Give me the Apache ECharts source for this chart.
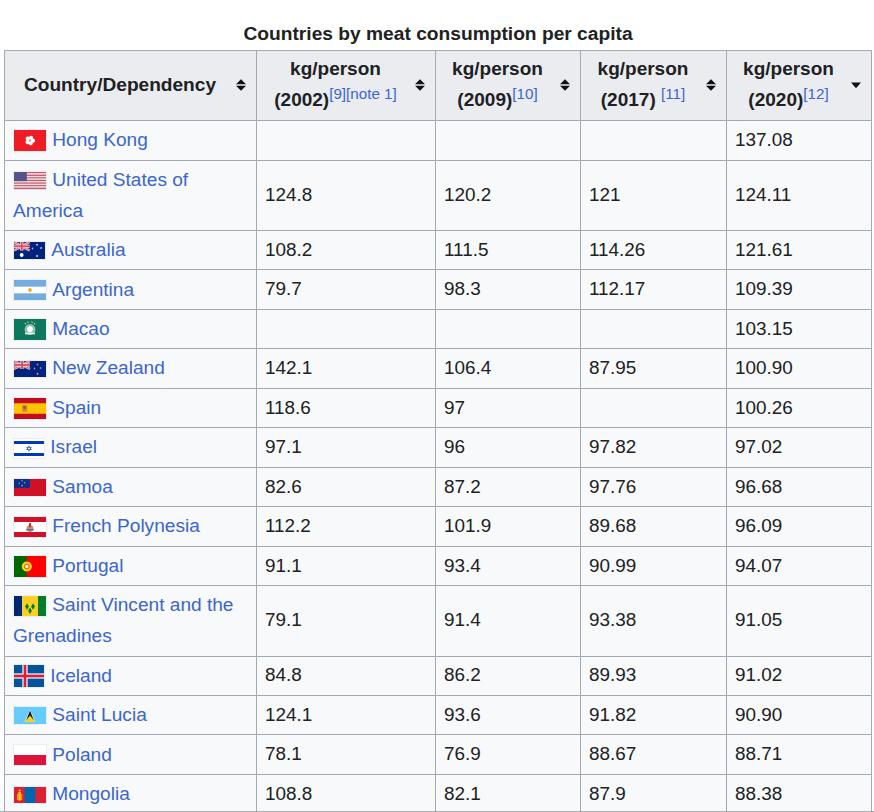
<!DOCTYPE html>
<html>
<head>
<meta charset="utf-8">
<title>Countries by meat consumption per capita</title>
<script src="https://cdn.jsdelivr.net/npm/echarts@6/dist/echarts.min.js"></script>
<style>
html,body{margin:0;padding:0;background:#fff;overflow:hidden;}
#main{width:874px;height:812px;}
#main text{font-kerning:none;}
</style>
</head>
<body>
<div id="main"></div>
<script>
//表格数据
var chartTitle = 'Countries by meat consumption per capita';
var firstHeader = 'Country/Dependency';
var headerUnit = 'kg/person';
var headerYears = ['(2002)', '(2009)', '(2017) ', '(2020)'];
var headerRefs = ['[9][note 1]', '[10]', '[11]', '[12]'];
var countries = ['Hong Kong', 'United States of\nAmerica', 'Australia', 'Argentina', 'Macao', 'New Zealand', 'Spain', 'Israel', 'Samoa', 'French Polynesia', 'Portugal', 'Saint Vincent and the\nGrenadines', 'Iceland', 'Saint Lucia', 'Poland', 'Mongolia'];
var values2002 = ['', '124.8', '108.2', '79.7', '', '142.1', '118.6', '97.1', '82.6', '112.2', '91.1', '79.1', '84.8', '124.1', '78.1', '108.8'];
var values2009 = ['', '120.2', '111.5', '98.3', '', '106.4', '97', '96', '87.2', '101.9', '93.4', '91.4', '86.2', '93.6', '76.9', '82.1'];
var values2017 = ['', '121', '114.26', '112.17', '', '87.95', '', '97.82', '97.76', '89.68', '90.99', '93.38', '89.93', '91.82', '88.67', '87.9'];
var values2020 = ['137.08', '124.11', '121.61', '109.39', '103.15', '100.90', '100.26', '97.02', '96.68', '96.09', '94.07', '91.05', '91.02', '90.90', '88.71', '88.38'];

//样式
var TEXT = '#202122', LINK = '#3b66cc', BORDER = '#a2a9b1', HEAD_BG = '#eaecf0', CELL_BG = '#f8f9fa';
var FONT = 'Liberation Sans';
var BODY_SIZE = 18.9, LINK_SIZE = 19.1, HEAD_SIZE = 19.1;

//表格布局（坐标轴单位就是像素）
var colEdges = [4.5, 256.5, 435.5, 580.5, 726.5, 871.5];
var HEADER_TOP = 50.5, HEADER_BOTTOM = 120.6, ROW_H = 39.45, LINE_H = 31;
var rowEdges = [HEADER_BOTTOM];
countries.forEach(function(name, i) {
	var extra = name.indexOf('\n') >= 0 ? LINE_H : 0;
	rowEdges.push(rowEdges[i] + ROW_H + extra);
});
var columns = [values2002, values2009, values2017, values2020];

//国旗尺寸
var flagSizes = {
	'Hong Kong': [32, 21], 'United States of\nAmerica': [32, 17], 'Australia': [31, 17], 'Argentina': [32, 20],
	'Macao': [32, 21], 'New Zealand': [32, 16], 'Spain': [32, 21], 'Israel': [30, 19], 'Samoa': [32, 17],
	'French Polynesia': [32, 20], 'Portugal': [32, 21], 'Saint Vincent and the\nGrenadines': [32, 20],
	'Iceland': [30, 22], 'Saint Lucia': [32, 17], 'Poland': [32, 20], 'Mongolia': [32, 16]
};

function box(x, y, w, h, c) {
	return {type: 'rect', shape: {x: x, y: y, width: w, height: h}, style: {fill: c}};
}
function poly(pts, c) {
	return {type: 'polygon', shape: {points: pts}, style: {fill: c}};
}
function dot(x, y, r, c) {
	return {type: 'circle', shape: {cx: x, cy: y, r: r}, style: {fill: c}};
}
function bar(x1, y1, x2, y2, lw, c) {
	return {type: 'line', shape: {x1: x1, y1: y1, x2: x2, y2: y2}, style: {stroke: c, lineWidth: lw}};
}
//米字旗
function unionJack(w, h) {
	return [
		box(0, 0, w, h, '#2b3f8c'),
		bar(0, 0, w, h, 2, '#f2d6dc'), bar(w, 0, 0, h, 2, '#f2d6dc'),
		bar(0, 0, w, h, 0.8, '#d8404f'), bar(w, 0, 0, h, 0.8, '#d8404f'),
		box(0, h / 2 - 1.6, w, 3.2, '#f6e4e6'), box(w / 2 - 1.6, 0, 3.2, h, '#f6e4e6'),
		box(0, h / 2 - 0.9, w, 1.8, '#e0485a'), box(w / 2 - 0.9, 0, 1.8, h, '#e0485a')
	];
}
//画国旗
function flagParts(name, w, h) {
	var p = [];
	switch (name) {
	case 'Hong Kong':
		p.push(box(0, 0, w, h, '#ee1c25'));
		for (var i = 0; i < 5; i++) {
			var a = i * Math.PI * 2 / 5 - 1.2;
			p.push(dot(w / 2 + 2.9 * Math.cos(a), h / 2 + 2.9 * Math.sin(a), 2.1, '#fff'));
		}
		p.push(dot(w / 2, h / 2, 0.9, '#f8a0a4'));
		break;
	case 'United States of\nAmerica':
		for (var s = 0; s < 13; s++) {
			p.push(box(0, s * h / 13, w, h / 13 + 0.1, s % 2 ? '#f0dfe0' : '#c4596a'));
		}
		p.push(box(0, 0, w * 0.4, h * 7 / 13, '#53558a'));
		break;
	case 'Australia':
		p.push(box(0, 0, w, h, '#00247d'));
		p = p.concat(unionJack(15.5, 8.5));
		p.push(dot(7.7, 13, 1.9, '#fff'), dot(23, 2.8, 0.9, '#cfd6ee'), dot(18.5, 6.5, 0.8, '#aab5dd'), dot(27, 6, 0.8, '#cfd6ee'), dot(23, 14, 0.9, '#e4e8f6'), dot(25.5, 8.5, 0.5, '#aab5dd'));
		break;
	case 'Argentina':
		p.push(box(0, 0, w, h, '#74acdf'), box(0, h / 3, w, h / 3, '#fff'), dot(w / 2, h / 2, 1.9, '#f6b40e'));
		break;
	case 'Macao':
		p.push(box(0, 0, w, h, '#0e785e'));
		p.push(dot(w / 2, h / 2, 5.4, '#8fc0b2'), dot(w / 2, h / 2 - 0.4, 3, '#fff'), box(w / 2 - 5, h / 2 + 3.2, 10, 1.6, '#eaf3f0'));
		p.push(dot(w / 2 - 4.5, 4.6, 0.7, '#c9d98a'), dot(w / 2 - 2, 3.2, 0.7, '#c9d98a'), dot(w / 2 + 2, 3.2, 0.7, '#c9d98a'), dot(w / 2 + 4.5, 4.6, 0.7, '#c9d98a'));
		break;
	case 'New Zealand':
		p.push(box(0, 0, w, h, '#00247d'));
		p = p.concat(unionJack(16, 8));
		p.push(dot(23.5, 3.5, 0.9, '#d87c8c'), dot(20.5, 7.5, 0.8, '#d87c8c'), dot(26.5, 7, 0.8, '#d87c8c'), dot(23.5, 12.8, 1, '#d87c8c'));
		break;
	case 'Spain':
		p.push(box(0, 0, w, h, '#c60b1e'), box(0, h / 4, w, h / 2, '#ffc400'));
		p.push(box(8.2, 7.2, 5, 6.5, '#c98a3a'), dot(10.7, 9.5, 1.6, '#ad5a30'));
		break;
	case 'Israel':
		p.push(box(0, 0, w, h, '#fff'), box(0, 2, w, 3, '#0038b8'), box(0, h - 5, w, 3, '#0038b8'));
		p.push(poly([[w / 2, h / 2 - 3.2], [w / 2 + 2.8, h / 2 + 1.6], [w / 2 - 2.8, h / 2 + 1.6]], '#3a63c6'));
		p.push(poly([[w / 2, h / 2 + 3.2], [w / 2 + 2.8, h / 2 - 1.6], [w / 2 - 2.8, h / 2 - 1.6]], '#3a63c6'));
		p.push(dot(w / 2, h / 2, 0.9, '#fff'));
		break;
	case 'Samoa':
		p.push(box(0, 0, w, h, '#ce1126'), box(0, 0, 16, 9, '#102f86'));
		p.push(dot(8, 1.8, 0.6, '#a9b5dd'), dot(5.2, 4.2, 0.6, '#a9b5dd'), dot(10.6, 3.7, 0.6, '#a9b5dd'), dot(8, 6.6, 0.7, '#a9b5dd'));
		break;
	case 'French Polynesia':
		p.push(box(0, 0, w, h, '#ce1126'), box(0, h / 4, w, h / 2, '#fff'));
		p.push(dot(w / 2, h / 2 + 1.5, 3.6, '#e08a6a'), box(w / 2 - 1, h / 2 - 4, 2, 4.5, '#c0392b'), box(w / 2 - 3.6, h / 2 + 2, 7.2, 1.5, '#4b6cb0'));
		break;
	case 'Portugal':
		p.push(box(0, 0, w, h, '#ff0000'), box(0, 0, w * 0.4, h, '#006600'));
		p.push(dot(w * 0.4, h / 2, 5, '#ffe000'), dot(w * 0.4, h / 2, 3, '#ff5a3c'), dot(w * 0.4, h / 2, 1.6, '#f4f4f4'));
		break;
	case 'Saint Vincent and the\nGrenadines':
		p.push(box(0, 0, w / 4, h, '#002674'), box(w / 4, 0, w / 2, h, '#fcd022'), box(w * 3 / 4, 0, w / 4, h, '#007c2e'));
		[[w / 2 - 3, h / 2 + 0.5], [w / 2 + 3, h / 2 + 0.5], [w / 2, h / 2 + 4.8]].forEach(function(c) {
			p.push(poly([[c[0], c[1] - 3.2], [c[0] + 1.9, c[1]], [c[0], c[1] + 3.2], [c[0] - 1.9, c[1]]], '#007c2e'));
		});
		break;
	case 'Iceland':
		p.push(box(0, 0, w, h, '#02529c'), box(8.3, 0, 5.4, h, '#e6e6f0'), box(0, h / 2 - 2.7, w, 5.4, '#e6e6f0'));
		p.push(box(9.7, 0, 2.6, h, '#dc1e35'), box(0, h / 2 - 1.3, w, 2.6, '#dc1e35'));
		break;
	case 'Saint Lucia':
		p.push(box(0, 0, w, h, '#66ccff'));
		p.push(poly([[w / 2, 2.5], [w / 2 + 5.2, h - 2], [w / 2 - 5.2, h - 2]], '#f4f4f4'));
		p.push(poly([[w / 2, 3.5], [w / 2 + 4.2, h - 2.5], [w / 2 - 4.2, h - 2.5]], '#111'));
		p.push(poly([[w / 2, h / 2], [w / 2 + 5.2, h - 2], [w / 2 - 5.2, h - 2]], '#fcd116'));
		break;
	case 'Poland':
		p.push(box(0, 0, w, h / 2, '#fff'), box(0, h / 2, w, h / 2, '#dc143c'));
		break;
	case 'Mongolia':
		p.push(box(0, 0, w, h, '#da2032'), box(w / 3, 0, w / 3, h, '#0066b3'));
		p.push(box(4.3, 5, 2.6, 8.5, '#f9cf02'), dot(5.6, 3.5, 1, '#f9cf02'), box(3, 7, 1, 6, '#f4a23a'), box(7.2, 7, 1, 6, '#f4a23a'));
		break;
	}
	return p;
}

function textEl(x, y, str, color, weight, size, align) {
	return {
		type: 'text',
		style: {
			x: x, y: y, text: str, fill: color, align: align || 'left', verticalAlign: 'middle',
			font: (weight || 'normal') + ' ' + (size || BODY_SIZE) + 'px "' + FONT + '"'
		}
	};
}
function snap(v) {
	return Math.floor(v) + 0.5;
}
function cellRect(api, col, top, bottom, fill) {
	var a = api.coord([colEdges[col], top]);
	var b = api.coord([colEdges[col + 1], bottom]);
	return {
		type: 'rect',
		shape: {x: snap(a[0]), y: snap(a[1]), width: snap(b[0]) - snap(a[0]), height: snap(b[1]) - snap(a[1])},
		style: {fill: fill, stroke: BORDER, lineWidth: 1}
	};
}
//表头排序箭头
function sortArrow(x, y, onlyDown) {
	var parts = [poly([[x - 5, y + (onlyDown ? -2.5 : 0.8)], [x + 5, y + (onlyDown ? -2.5 : 0.8)], [x, y + (onlyDown ? 3.3 : 5.8)]], '#111')];
	if (!onlyDown) {
		parts.push(poly([[x - 5, y - 0.8], [x + 5, y - 0.8], [x, y - 5.8]], '#111'));
	}
	return parts;
}

//每个单元格一条数据 [列, 行]，行 -1 是表头
var cells = [];
for (var c = 0; c < 5; c++) {
	cells.push([c, -1]);
}
for (var r = 0; r < countries.length; r++) {
	for (var c2 = 0; c2 < 5; c2++) {
		cells.push([c2, r]);
	}
}

function renderCell(params, api) {
	var col = api.value(0), row = api.value(1);
	var children = [];
	var left = api.coord([colEdges[col], 0])[0];
	var right = api.coord([colEdges[col + 1], 0])[0];
	if (row < 0) {
		children.push(cellRect(api, col, HEADER_TOP, HEADER_BOTTOM, HEAD_BG));
		var cx = (left + right - 21) / 2;
		var yMid = api.coord([0, 85])[1];
		if (col === 0) {
			children.push(textEl(cx, yMid - 1, firstHeader, TEXT, 'bold', HEAD_SIZE, 'center'));
		} else {
			children.push(textEl(cx, yMid - 16.8, headerUnit, TEXT, 'bold', 19, 'center'));
			children.push({
				type: 'text',
				style: {
					x: cx, y: yMid + 14.3,
					text: '{y|' + headerYears[col - 1] + '}{s|' + headerRefs[col - 1] + '}',
					align: 'center', verticalAlign: 'middle',
					rich: {
						y: {font: 'bold 19px "' + FONT + '"', fill: TEXT},
						s: {font: '15.2px "' + FONT + '"', fill: LINK, padding: [0, 0, 11, 0]}
					}
				}
			});
		}
		children = children.concat(sortArrow(right - 15.5, yMid, col === 4));
		return {type: 'group', children: children};
	}
	var top = rowEdges[row], bottom = rowEdges[row + 1];
	children.push(cellRect(api, col, top, bottom, CELL_BG));
	var mid = api.coord([0, (top + bottom) / 2])[1];
	if (col > 0) {
		children.push(textEl(left + 8.5, mid - 0.8, columns[col - 1][row], TEXT));
		return {type: 'group', children: children};
	}
	var name = countries[row];
	var lines = name.split('\n');
	var lineMid = lines.length > 1 ? mid - LINE_H / 2 : mid;
	var size = flagSizes[name];
	var fx = Math.round(left + 9.3), fy = Math.round(lineMid + 0.6 - size[1] / 2);
	children.push({
		type: 'group', x: fx, y: fy,
		children: [box(-1, -1, size[0] + 2, size[1] + 2, '#eaecf0')].concat(flagParts(name, size[0], size[1]))
	});
	children.push(textEl(fx + size[0] + 6.3, lineMid - 0.6, lines[0], LINK, 'normal', LINK_SIZE));
	if (lines.length > 1) {
		children.push(textEl(left + 8.5, mid + LINE_H / 2 - 0.6, lines[1], LINK, 'normal', LINK_SIZE));
	}
	return {type: 'group', children: children};
}

var myChart = echarts.init(document.getElementById('main'), null, {renderer: 'svg'});
var option = {
	animation: false,
	backgroundColor: '#fff',
	title: {
		text: chartTitle,
		left: 438,
		top: 24,
		textAlign: 'center',
		padding: 0,
		textStyle: {fontFamily: FONT, fontSize: 19.2, fontWeight: 'bold', color: TEXT}
	},
	grid: {left: 0, right: 0, top: 0, bottom: 0},
	xAxis: {type: 'value', min: 0, max: 874, show: false},
	yAxis: {type: 'value', min: 0, max: 812, inverse: true, show: false},
	//截图底部的灰线
	graphic: [{type: 'rect', z: 100, shape: {x: 0, y: 811, width: 874, height: 1}, style: {fill: '#abafb4'}}],
	series: [{
		type: 'custom',
		silent: true,
		clip: true,
		data: cells,
		renderItem: renderCell
	}]
};
// 使用刚指定的配置项和数据显示图表。
myChart.setOption(option);
</script>
</body>
</html>
